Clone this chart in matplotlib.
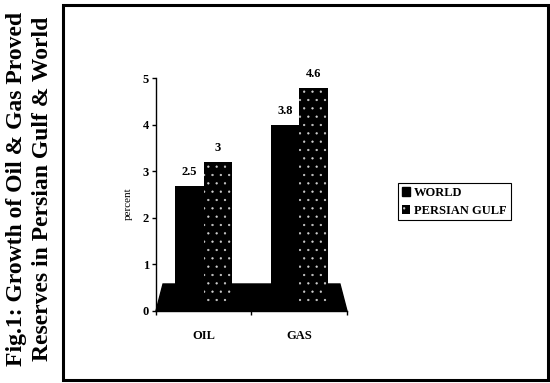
import numpy as np
import matplotlib
matplotlib.use('Agg')
import matplotlib.pyplot as plt
from matplotlib.patches import Rectangle, Polygon, Patch
from matplotlib.transforms import offset_copy

OUTPUT_PLOT = 'out.png'

categories = ['OIL', 'GAS']
world = [2.5, 3.8]
persian_gulf = [3, 4.6]
series_names = ['WORLD', 'PERSIAN GULF']
y_ticks = [0, 1, 2, 3, 4, 5]
title_lines = ['Fig.1: Growth of Oil & Gas Proved',
               'Reserves in Persian Gulf & World']

plt.rcParams['font.family'] = ['Liberation Serif', 'DejaVu Serif']
plt.rcParams['font.weight'] = 'bold'
plt.rcParams['hatch.linewidth'] = 0.4


def main():
    fig = plt.figure(figsize=(5.5, 3.83), dpi=100)
    ax = fig.add_axes([0.2836, 0.188, 0.3473, 0.608])

    x = np.arange(len(categories))
    width = 0.3

    # floor slab of the pseudo-3d chart
    floor = Polygon([(0, 0), (0.037, 0.116), (0.963, 0.116), (1, 0)], closed=True,
                    transform=ax.transAxes, facecolor='black', edgecolor='black',
                    zorder=1, clip_on=False)
    ax.add_patch(floor)

    # bars sit a bit back on the floor, so lift them a few pixels
    lifted = offset_copy(ax.transData, fig=fig, x=0, y=9, units='dots')
    ax.bar(x - width / 2, world, width, color='black', transform=lifted, zorder=2)
    ax.bar(x + width / 2, persian_gulf, width, facecolor='black', edgecolor='#d0d0d0',
           linewidth=0, hatch='..', transform=lifted, zorder=2)

    for xs, vals in [(x - width / 2, world), (x + width / 2, persian_gulf)]:
        for xi, v in zip(xs, vals):
            ax.annotate(f'{v:g}', (xi, v), xytext=(0, 17), textcoords='offset pixels',
                        ha='center', va='bottom', fontsize=9)

    ax.set_xlim(-0.5, 1.5)
    ax.set_ylim(0, 5)
    for side in ['top', 'right']:
        ax.spines[side].set_visible(False)
    for side in ['left', 'bottom']:
        ax.spines[side].set_linewidth(1.0)

    ax.set_yticks(y_ticks)
    ax.tick_params(axis='y', direction='out', length=3, width=1, pad=2, labelsize=9)

    ax.set_xticks([-0.5, 0.5, 1.5])
    ax.set_xticklabels([])
    ax.set_xticks(x, minor=True)
    ax.set_xticklabels(categories, minor=True)
    ax.tick_params(axis='x', which='major', direction='out', length=3, width=1)
    ax.tick_params(axis='x', which='minor', length=0, pad=14, labelsize=9)

    ax.set_ylabel('percent', fontsize=8)
    ax.yaxis.set_label_coords(-0.12, 0.46)

    # outer frame
    fig.patches.append(Rectangle((0.1145, 0.008), 0.882, 0.979, transform=fig.transFigure,
                                 fill=False, lw=2.2, edgecolor='black'))

    fig.text(0.053, 0.506, '\n'.join(title_lines), rotation=90, ha='center', va='center',
             multialignment='center', fontsize=17, linespacing=1.3)

    handles = [Patch(facecolor='black', edgecolor='black'),
               Patch(facecolor='black', edgecolor='#d0d0d0', hatch='..', linewidth=0)]
    leg = fig.legend(handles, series_names, loc='upper left', bbox_to_anchor=(0.7236, 0.522),
                     frameon=True, fancybox=False, edgecolor='black', framealpha=1,
                     fontsize=9, handlelength=0.7, handleheight=0.8, handletextpad=0.3,
                     borderpad=0.3, labelspacing=0.45, borderaxespad=0)
    leg.get_frame().set_linewidth(0.8)

    fig.savefig(OUTPUT_PLOT, dpi=100)


if __name__ == '__main__':
    main()
